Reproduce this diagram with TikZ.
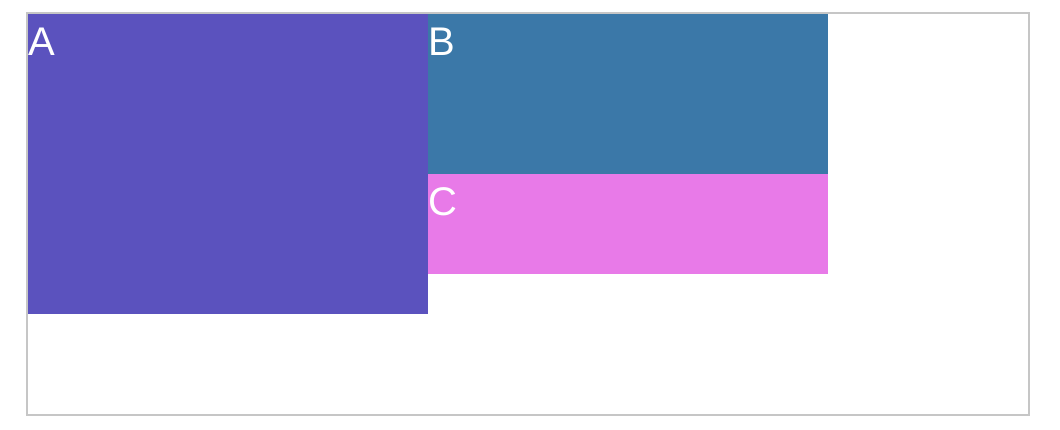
\documentclass[tikz,border=0pt]{standalone}
\usepackage{fontspec}
\setmainfont{Liberation Sans}
\definecolor{frameGray}{RGB}{198,198,198}
\definecolor{colA}{RGB}{91,82,190}
\definecolor{colB}{RGB}{59,120,168}
\definecolor{colC}{RGB}{232,122,232}
\begin{document}
\begin{tikzpicture}[x=1pt,y=-1pt,lbl/.style={text=white,font=\fontsize{40}{40}\selectfont,inner sep=0pt,anchor=base west}]

\useasboundingbox (0,0) rectangle (1060,430);

%\draw[red] (0,0) rectangle (1060,430);

\draw [color=frameGray,line width=2] (27,13) rectangle (1029,414.5);

\fill [colA] (28,14) rectangle (428,314);
\fill [colB] (428,14) rectangle (828,174);
\fill [colC] (428,174) rectangle (828,274);

\foreach \n/\x/\y in {A/28/56, B/428/56, C/428/216}{
\node [lbl] (lbl_\n) at (\x,\y) {\n};
}

\end{tikzpicture}
\end{document}
